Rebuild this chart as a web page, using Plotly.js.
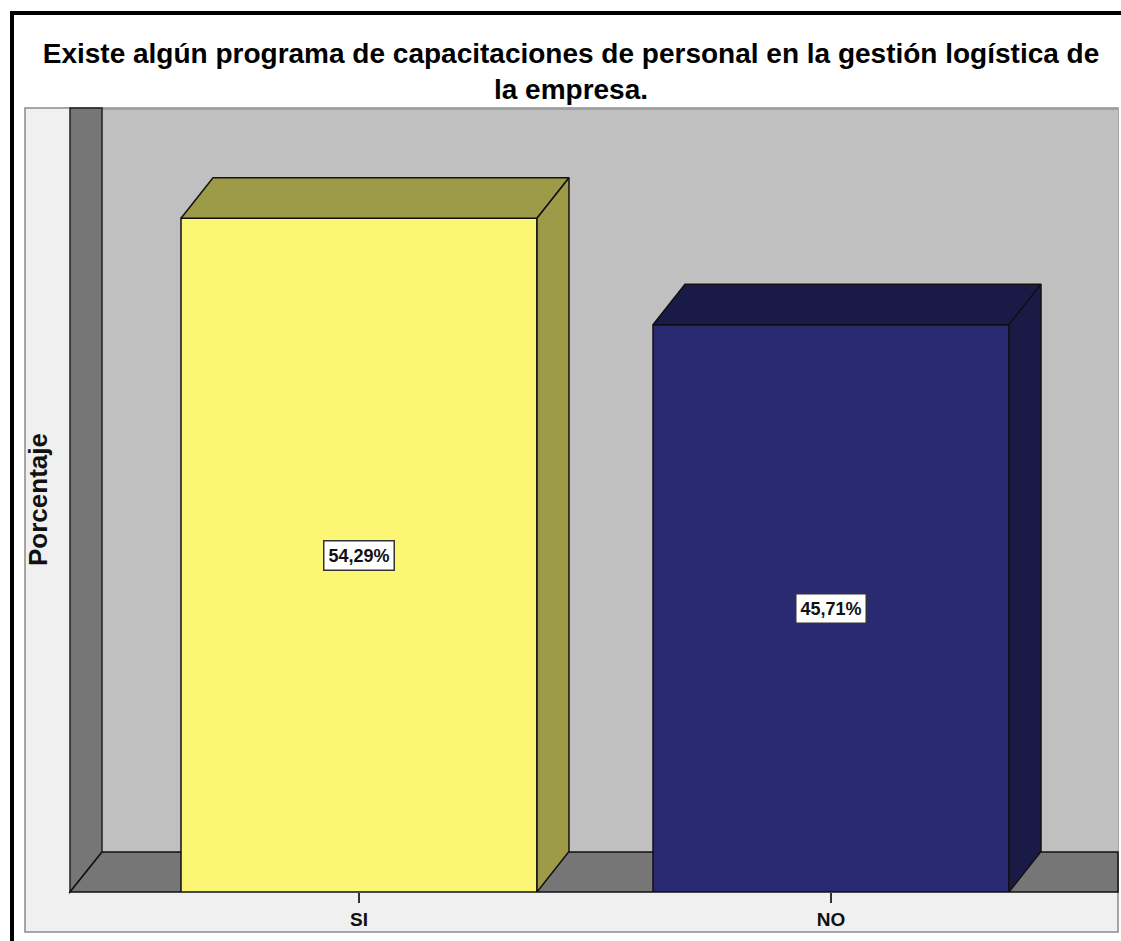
<!DOCTYPE html>
<html>
<head>
<meta charset="utf-8">
<script src="https://cdn.plot.ly/plotly-3.0.1.min.js"></script>
<style>html,body{margin:0;padding:0;background:#fff;}#chart{width:1121px;height:941px;}</style>
</head>
<body>
<div id="chart"></div>
<script>
// ---- data ----
var categories = ["SI", "NO"];
var percentages = [54.29, 45.71];
var frontColors = ["#fbf673", "#292a72"];
var shadeColors = ["#9d9a48", "#1a1a46"];
var chartTitle = "Existe algún programa de capacitaciones de personal en la gestión logística de<br>la empresa.";
var yTitle = "Porcentaje";

// ---- geometry (figure pixels) ----
var W = 1121, H = 941;
var L = 70, R = 1118, T = 108, B = 892;
var pxPerUnitX = 472, centerPx0 = 359;
var pxPerUnitY = 12.41;
var depthPxX = 32, depthPxY = 40.5;
var barWidth = 356 / pxPerUnitX;
var dx = depthPxX / pxPerUnitX, dy = depthPxY / pxPerUnitY;
var xRange = [(L - centerPx0) / pxPerUnitX, (R - centerPx0) / pxPerUnitX];
var yRange = [0, (B - T) / pxPerUnitY];

function px(x) { return (x - L) / (R - L); }
function py(y) { return (B - y) / (B - T); }
function path(pts) {
  return pts.map(function (p, i) { return (i ? "L" : "M") + px(p[0]) + "," + py(p[1]); }).join(" ") + " Z";
}

var idx = categories.map(function (c, i) { return i; });
var traces = [];
traces.push({
  type: "bar", x: idx, y: percentages, width: barWidth,
  marker: { color: frontColors, line: { color: "#111", width: 1.5 } },
  hoverinfo: "skip", showlegend: false
});
idx.forEach(function (i) {
  var v = percentages[i], x0 = i - barWidth / 2, x1 = i + barWidth / 2;
  traces.push({
    type: "scatter", mode: "lines", fill: "toself", fillcolor: shadeColors[i],
    x: [x0, x1, x1 + dx, x0 + dx, x0], y: [v, v, v + dy, v + dy, v],
    line: { color: "#111", width: 1.5 }, hoverinfo: "skip", showlegend: false
  });
  traces.push({
    type: "scatter", mode: "lines", fill: "toself", fillcolor: shadeColors[i],
    x: [x1, x1 + dx, x1 + dx, x1, x1], y: [0, dy, v + dy, v, 0],
    line: { color: "#111", width: 1.5 }, hoverinfo: "skip", showlegend: false
  });
});

var shapes = [
  // outer light panel
  { type: "rect", xref: "paper", yref: "paper", layer: "below",
    x0: px(25), x1: px(1118), y0: py(932), y1: py(108),
    fillcolor: "#f0f0f0", line: { color: "#8a8a8a", width: 1.5 } },
  // back wall
  { type: "rect", xref: "paper", yref: "paper", layer: "below",
    x0: px(102), x1: px(1118), y0: py(852), y1: py(108),
    fillcolor: "#c0c0c0", line: { width: 0 } },
  { type: "line", xref: "paper", yref: "paper", layer: "below",
    x0: px(102), x1: px(1118), y0: py(109), y1: py(109), line: { color: "#a0a0a0", width: 2 } },
  // left wall
  { type: "path", xref: "paper", yref: "paper", layer: "below",
    path: path([[70, 108], [102, 108], [102, 852], [70, 892]]),
    fillcolor: "#767676", line: { color: "#222", width: 1.5 } },
  // floor
  { type: "path", xref: "paper", yref: "paper", layer: "below",
    path: path([[70, 892], [102, 852], [1118, 852], [1118, 892]]),
    fillcolor: "#767676", line: { color: "#111", width: 1.5 } },
  // outer black frame
  { type: "rect", xref: "paper", yref: "paper", layer: "above",
    x0: px(12), x1: px(1130), y0: py(950), y1: py(13),
    fillcolor: "rgba(0,0,0,0)", line: { color: "#000", width: 4 } }
];

var annotations = idx.map(function (i) {
  return {
    x: i, y: percentages[i] / 2, xref: "x", yref: "y",
    text: percentages[i].toFixed(2).replace(".", ",") + "%",
    showarrow: false, bgcolor: "#ffffff", bordercolor: "#333", borderwidth: 1.5, borderpad: 4,
    font: { family: "Liberation Sans, Arial, sans-serif", size: 18, color: "#111", weight: "bold" }
  };
});
annotations.push({
  xref: "paper", yref: "paper", x: px(38), y: py(500), text: yTitle, textangle: -90,
  showarrow: false, xanchor: "center", yanchor: "middle",
  font: { family: "Liberation Sans, Arial, sans-serif", size: 26, color: "#111", weight: "bold" }
});

var layout = {
  width: W, height: H,
  margin: { l: L, r: W - R, t: T, b: H - B, pad: 0 },
  paper_bgcolor: "#ffffff", plot_bgcolor: "rgba(0,0,0,0)",
  title: {
    text: chartTitle, xref: "container", yref: "container",
    x: 571 / W, xanchor: "center", y: 1 - 63 / H, yanchor: "top",
    font: { family: "Liberation Sans, Arial, sans-serif", size: 28, color: "#000", weight: "bold" }
  },
  xaxis: {
    range: xRange, tickvals: idx, ticktext: categories,
    showgrid: false, zeroline: false, showline: false,
    ticks: "outside", ticklen: 10, tickwidth: 2, tickcolor: "#333",
    tickfont: { family: "Liberation Sans, Arial, sans-serif", size: 19, color: "#111", weight: "bold" },
    fixedrange: true
  },
  yaxis: {
    range: yRange, showgrid: false, zeroline: false, showline: false,
    showticklabels: false, ticks: "", fixedrange: true
  },
  shapes: shapes, annotations: annotations, bargap: 0, showlegend: false
};

Plotly.newPlot("chart", traces, layout, { displayModeBar: false, staticPlot: true });
</script>
</body>
</html>
